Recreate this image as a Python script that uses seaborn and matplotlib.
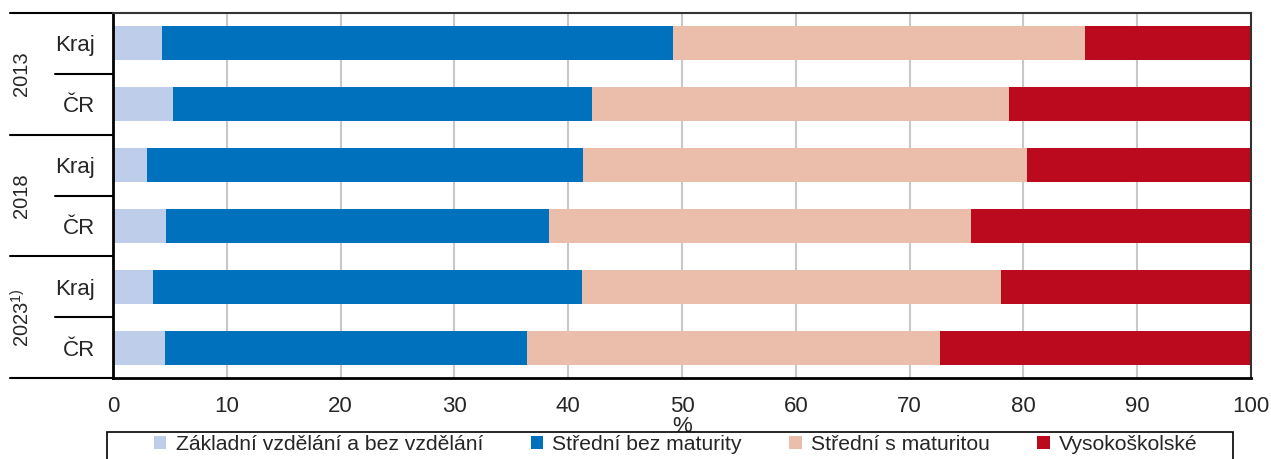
import numpy as np
import pandas as pd
import matplotlib.pyplot as plt
import seaborn as sns
from matplotlib.patches import Patch, Rectangle

# data (shares in %)
years = ['2013', '2018', '2023$^{1)}$']
areas = ['Kraj', 'ČR', 'Kraj', 'ČR', 'Kraj', 'ČR']
zakladni = [4.3, 5.3, 3.0, 4.7, 3.5, 4.6]
stredni_bez = [44.9, 36.8, 38.3, 33.6, 37.7, 31.8]
stredni_s = [36.2, 36.6, 39.0, 37.1, 36.8, 36.3]
vysoko = [14.6, 21.3, 19.7, 24.6, 22.0, 27.3]
categories = ['Základní vzdělání a bez vzdělání', 'Střední bez maturity',
              'Střední s maturitou', 'Vysokoškolské']
colors = ['#bdcdea', '#0071bc', '#ebbdab', '#bb0a1e']
x_ticks = [0, 10, 20, 30, 40, 50, 60, 70, 80, 90, 100]

sns.set_style('white')
plt.rcParams['font.family'] = ['Liberation Sans', 'DejaVu Sans']
plt.rcParams['mathtext.fontset'] = 'custom'
plt.rcParams['mathtext.rm'] = 'Liberation Sans'
FS = 16

rows = [f'r{i}' for i in range(len(areas))]
df = pd.DataFrame({'row': rows, 'z': zakladni, 'sb': stredni_bez,
                   'ss': stredni_s, 'v': vysoko})
cols = ['z', 'sb', 'ss', 'v']
cum = df[cols].cumsum(axis=1)

W, H = 1271, 459
fig = plt.figure(figsize=(W / 100, H / 100), dpi=100)
ax = fig.add_axes([113 / W, 81 / H, 1138 / W, 365 / H])

# stacked bars: draw cumulative totals from the widest down
for col, color in reversed(list(zip(cols, colors))):
    sns.barplot(x=cum[col], y=df['row'], orient='h', color=color,
                width=0.56, linewidth=0, saturation=1, ax=ax)

ax.set_xlim(0, 100)
ax.set_ylim(5.5, -0.5)
ax.set_xticks(x_ticks)
ax.set_xticklabels([str(t) for t in x_ticks], fontsize=FS)
ax.set_yticks(range(len(areas)))
ax.set_yticklabels(areas, fontsize=FS)
ax.tick_params(axis='y', length=0, pad=13)
ax.tick_params(axis='x', length=5, width=1.5, color='black', pad=8)
ax.set_xlabel('%', fontsize=FS, labelpad=-1)
ax.set_ylabel('')
ax.xaxis.grid(True, color='#c8c8c8', linewidth=1.5)
ax.set_axisbelow(True)

for side in ['left', 'bottom']:
    ax.spines[side].set_color('black')
    ax.spines[side].set_linewidth(2)
for side in ['top', 'right']:
    ax.spines[side].set_color('#333333')
    ax.spines[side].set_linewidth(1.5)

# group separators and year labels on the left
trans = ax.get_yaxis_transform()
for y in [-0.5, 1.5, 3.5, 5.5]:
    ax.plot([-0.0905, 0], [y, y], color='black', lw=1.5, transform=trans, clip_on=False)
for y in [0.5, 2.5, 4.5]:
    ax.plot([-0.051, 0], [y, y], color='black', lw=1.5, transform=trans, clip_on=False)
for i, year in enumerate(years):
    ax.text(-0.080, 2 * i + 0.5, year, rotation=90, ha='center', va='center',
            fontsize=14.5, transform=trans)

# legend: frame drawn separately, entries spread inside it
fig.patches.append(Rectangle((107 / W, -0.05), (1233 - 107) / W, 0.05 + 27 / H,
                             transform=fig.transFigure, facecolor='white',
                             edgecolor='black', linewidth=1.2))
handles = [Patch(facecolor=c, edgecolor='none') for c in colors]
fig.legend(handles, categories, loc='upper left', ncol=4,
           bbox_to_anchor=(150 / W, 0.0, (1202 - 150) / W, 28 / H),
           mode='expand', fontsize=15.2, frameon=False, handlelength=0.58,
           handleheight=0.58, handletextpad=0.45, borderpad=0.2,
           borderaxespad=0)

fig.savefig('out.png', dpi=100)
